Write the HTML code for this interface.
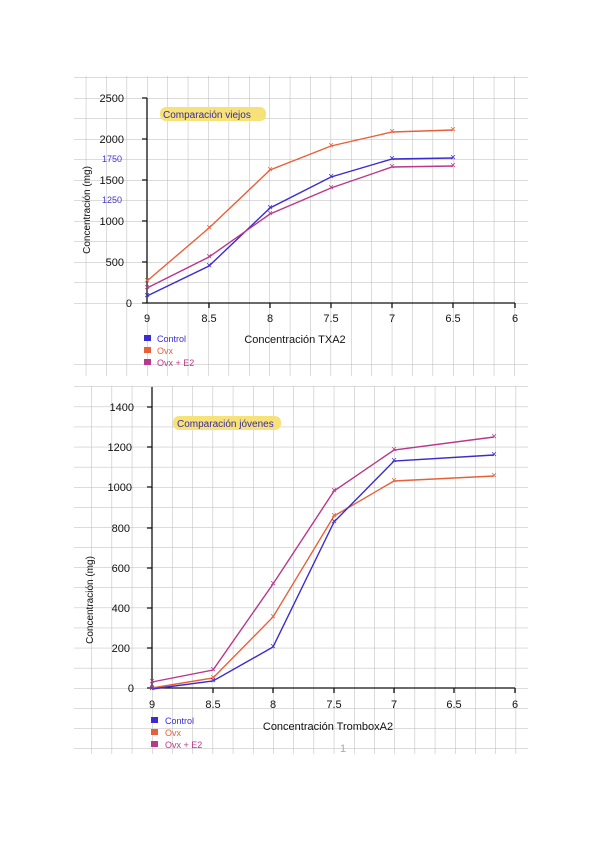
<!DOCTYPE html>
<html><head><meta charset="utf-8"><style>
html,body{margin:0;padding:0;background:#fff;}
svg{display:block;font-family:"Liberation Sans",sans-serif;}
</style></head><body>
<svg width="600" height="848" viewBox="0 0 600 848" xmlns="http://www.w3.org/2000/svg">
<defs>
<pattern id="g1" x="147" y="303" width="20.4" height="20.5" patternUnits="userSpaceOnUse">
<path d="M0 0H20.4M0 0V20.5" stroke="#b8b8b8" stroke-width="1" fill="none"/></pattern>
<pattern id="g2" x="152" y="688" width="20.2" height="20.1" patternUnits="userSpaceOnUse">
<path d="M0 0H20.2M0 0V20.1" stroke="#b8b8b8" stroke-width="1" fill="none"/></pattern>
</defs>
<rect x="74" y="76" width="454" height="300" fill="url(#g1)"/>
<rect x="74" y="386" width="454" height="368" fill="url(#g2)"/>

<!-- TOP CHART -->
<g stroke="#111" stroke-width="1.3" fill="none">
<path d="M147 98V303H515"/>
<path d="M142 98H147M142 139H147M142 180H147M142 221H147M142 262H147M142 303H147"/>
<path d="M209 303v5M270 303v5M331 303v5M392 303v5M453 303v5M515 303v5"/>
</g>
<g font-size="11" fill="#111" text-anchor="end">
<text x="124" y="102">2500</text><text x="124" y="143">2000</text><text x="124" y="184">1500</text>
<text x="124" y="225">1000</text><text x="124" y="266">500</text><text x="132" y="307">0</text>
</g>
<g font-size="9" fill="#4433cc" text-anchor="end"><text x="122" y="162">1750</text><text x="122" y="203">1250</text></g>
<g font-size="11" fill="#111" text-anchor="middle">
<text x="147" y="322">9</text><text x="209" y="322">8.5</text><text x="270" y="322">8</text>
<text x="331" y="322">7.5</text><text x="392" y="322">7</text><text x="453" y="322">6.5</text><text x="515" y="322">6</text>
<text x="295" y="343">Concentración  TXA2</text>
<text transform="translate(90,210) rotate(-90)" font-size="10">Concentración (mg)</text>
</g>
<rect x="160" y="107" width="106" height="14" rx="6" fill="#f7e27a"/>
<text x="163" y="118" font-size="10" fill="#3a2a9a">Comparación viejos</text>
<g stroke-width="1.4" fill="none">
<polyline stroke="#e8603a" points="147,281 209,228 270,170 331,146 392,132 453,130"/>
<polyline stroke="#3b2bd0" points="147,296 209,266 270,208 331,177 392,159 453,158"/>
<polyline stroke="#b8388a" points="147,288 209,257 270,214 331,188 392,167 453,166"/>
</g>
<g font-size="10" text-anchor="middle" dominant-baseline="central">
<g fill="#e8603a"><text x="147" y="281">×</text><text x="209" y="228">×</text><text x="270" y="170">×</text><text x="331" y="146">×</text><text x="392" y="132">×</text><text x="453" y="130">×</text></g>
<g fill="#3b2bd0"><text x="147" y="296">×</text><text x="209" y="266">×</text><text x="270" y="208">×</text><text x="331" y="177">×</text><text x="392" y="159">×</text><text x="453" y="158">×</text></g>
<g fill="#b8388a"><text x="147" y="288">×</text><text x="209" y="257">×</text><text x="270" y="214">×</text><text x="331" y="188">×</text><text x="392" y="167">×</text><text x="453" y="166">×</text></g>
</g>
<rect x="144" y="335" width="7" height="6" fill="#3b2bd0"/><text x="157" y="342" font-size="9" fill="#3b2bd0">Control</text>
<rect x="144" y="347" width="7" height="6" fill="#e8603a"/><text x="157" y="354" font-size="9" fill="#e8603a">Ovx</text>
<rect x="144" y="359" width="7" height="6" fill="#b8388a"/><text x="157" y="366" font-size="9" fill="#b8388a">Ovx + E2</text>

<!-- BOTTOM CHART -->
<g stroke="#111" stroke-width="1.3" fill="none">
<path d="M152 387V688H515"/>
<path d="M147 407H152M147 447H152M147 487H152M147 528H152M147 568H152M147 608H152M147 648H152M147 688H152"/>
<path d="M213 688v5M273 688v5M334 688v5M394 688v5M454 688v5M515 688v5"/>
</g>
<g font-size="11" fill="#111" text-anchor="end">
<text x="134" y="411">1400</text><text x="132" y="451">1200</text><text x="132" y="491">1000</text>
<text x="130" y="532">800</text><text x="130" y="572">600</text><text x="130" y="612">400</text>
<text x="130" y="652">200</text><text x="134" y="692">0</text>
</g>
<g font-size="11" fill="#111" text-anchor="middle">
<text x="152" y="708">9</text><text x="213" y="708">8.5</text><text x="273" y="708">8</text>
<text x="334" y="708">7.5</text><text x="394" y="708">7</text><text x="454" y="708">6.5</text><text x="515" y="708">6</text>
<text x="328" y="730">Concentración  TromboxA2</text>
<text x="343" y="752" fill="#aaa">1</text>
<text transform="translate(93,600) rotate(-90)" font-size="10">Concentración (mg)</text>
</g>
<rect x="173" y="416" width="108" height="14" rx="6" fill="#f7e27a"/>
<text x="177" y="427" font-size="10" fill="#3a2a9a">Comparación jóvenes</text>
<g stroke-width="1.4" fill="none">
<polyline stroke="#e8603a" points="152,688 213,678 273,617 334,516 394,481 494,476"/>
<polyline stroke="#3b2bd0" points="152,689 213,681 273,647 334,522 394,461 494,455"/>
<polyline stroke="#b8388a" points="152,682 213,670 273,584 334,491 394,450 494,437"/>
</g>
<g font-size="10" text-anchor="middle" dominant-baseline="central">
<g fill="#e8603a"><text x="152" y="688">×</text><text x="213" y="678">×</text><text x="273" y="617">×</text><text x="334" y="516">×</text><text x="394" y="481">×</text><text x="494" y="476">×</text></g>
<g fill="#3b2bd0"><text x="152" y="689">×</text><text x="213" y="681">×</text><text x="273" y="647">×</text><text x="334" y="522">×</text><text x="394" y="461">×</text><text x="494" y="455">×</text></g>
<g fill="#b8388a"><text x="152" y="682">×</text><text x="213" y="670">×</text><text x="273" y="584">×</text><text x="334" y="491">×</text><text x="394" y="450">×</text><text x="494" y="437">×</text></g>
</g>
<rect x="151" y="717" width="7" height="6" fill="#3b2bd0"/><text x="165" y="724" font-size="9" fill="#3b2bd0">Control</text>
<rect x="151" y="729" width="7" height="6" fill="#e8603a"/><text x="165" y="736" font-size="9" fill="#e8603a">Ovx</text>
<rect x="151" y="741" width="7" height="6" fill="#b8388a"/><text x="165" y="748" font-size="9" fill="#b8388a">Ovx + E2</text>
</svg>
</body></html>
